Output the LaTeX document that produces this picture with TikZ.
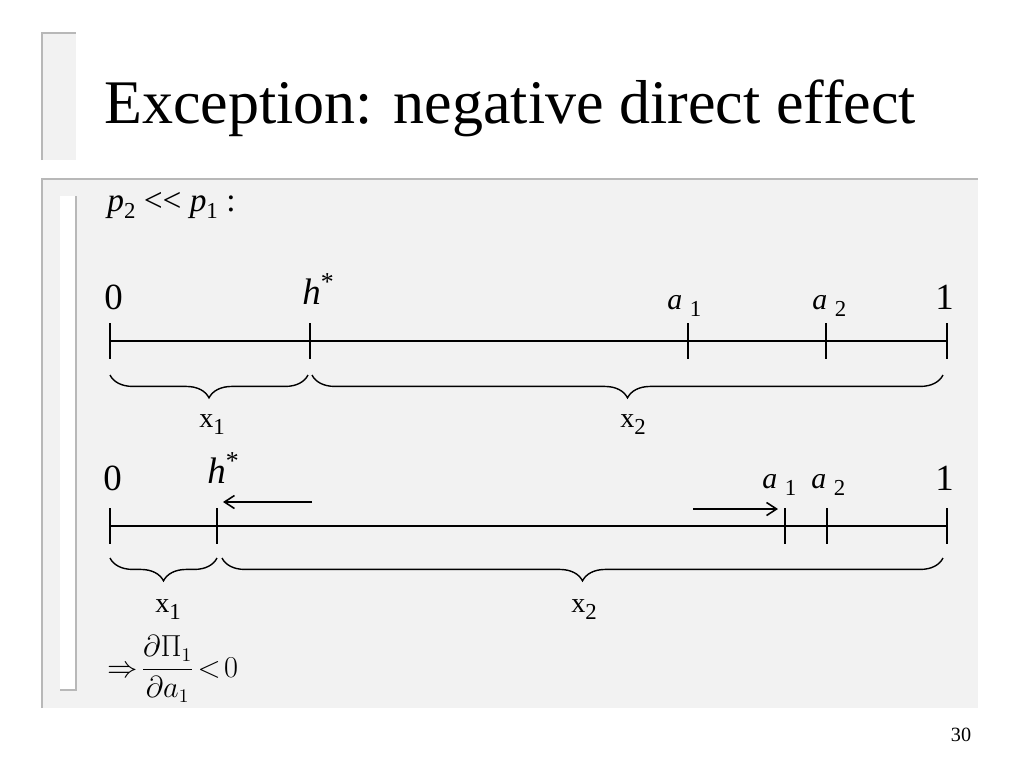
\documentclass[tikz,border=0pt]{standalone}
\usepackage{amsmath}
\usepackage{fontspec}
\setmainfont{Liberation Serif}
\usetikzlibrary{arrows.meta,decorations.pathreplacing}
\tikzset{
  pnl/.style={fill=black!5,draw=none},
  edg/.style={draw=black!28,line width=1pt},
  axis/.style={line width=.8pt},
  tk/.style={line width=.8pt},
  brc/.style={decorate,decoration={brace,mirror,amplitude=13pt},line width=.8pt},
  ar/.style={-{Straight Barb[length=2mm,width=2.6mm]},line width=.9pt},
  num/.style={font=\fontsize{21}{23}\selectfont,anchor=base west,inner sep=0pt},
  albl/.style={font=\fontsize{17}{19}\selectfont,anchor=base west,inner sep=0pt},
  seg/.style={font=\fontsize{16}{18}\selectfont,anchor=base,inner sep=0pt},
}
\newcommand{\sub}[1]{\raisebox{-4.5pt}{\fontsize{13}{15}\selectfont#1}}

\begin{document}
\begin{tikzpicture}[x=0.02cm,y=-0.02cm]
  \useasboundingbox (0,0) rectangle (1024,768);
  % slide panels
  \fill[pnl] (42,33) rectangle (76,160);
  \draw[edg] (42,160) -- (42,33) -- (76,33);
  \fill[pnl] (42,179) rectangle (978,708);
  \draw[edg] (42,708) -- (42,179) -- (978,179);
  \fill[white] (60,196) rectangle (76,690);
  \draw[edg] (60,690) -- (76,690) -- (76,196);
  \node[anchor=base west,inner sep=0pt,font=\fontsize{35.3}{38}\selectfont] (title)
    at (104,123) {Exception: negative direct effect};
  \node[anchor=base west,inner sep=0pt,font=\fontsize{19}{21}\selectfont] (cond)
    at (107,211) {\textit{p}\sub{2} <\kern0pt< \textit{p}\sub{1} :};

  % first line
  \coordinate (o1) at (110,341);
  \coordinate (h1) at (310,341);
  \coordinate (a1) at (688,341);
  \coordinate (b1) at (826,341);
  \coordinate (e1) at (947,341);
  \draw[axis] (o1) -- (e1);
  \foreach \p in {o1,h1,a1,b1,e1}
    \draw[tk] ([yshift=.36cm]\p) -- ([yshift=-.36cm]\p);
  \node[num] (zero1) at (104,309) {0};
  \node[num] (hs1)   at (302,304) {\textit{h}\textsuperscript{*}};
  \node[albl] (al1)  at (667,309) {\textit{a} \sub{1}};
  \node[albl] (bl1)  at (812,309) {\textit{a} \sub{2}};
  \node[num] (one1)  at (935,309) {1};
  \coordinate (q1) at (110,375);
  \coordinate (q2) at (308,375);
  \coordinate (q3) at (312,375);
  \coordinate (q4) at (943,375);
  \draw[brc] (q1) -- (q2);
  \draw[brc] (q3) -- (q4);
  \node[seg] (xa1) at (212,427) {x\sub{1}};
  \node[seg] (xb1) at (633,427) {x\sub{2}};

  % second line
  \coordinate (o2) at (110,526);
  \coordinate (h2) at (217,526);
  \coordinate (a2) at (785,526);
  \coordinate (b2) at (827,526);
  \coordinate (e2) at (947,526);
  \draw[axis] (o2) -- (e2);
  \foreach \p in {o2,h2,a2,b2,e2}
    \draw[tk] ([yshift=.36cm]\p) -- ([yshift=-.36cm]\p);
  \node[num] (zero2) at (103,490) {0};
  \node[num] (hs2)   at (207,483) {\textit{h}\textsuperscript{*}};
  \node[albl] (al2)  at (762,488) {\textit{a} \sub{1}};
  \node[albl] (bl2)  at (811,488) {\textit{a} \sub{2}};
  \node[num] (one2)  at (935,490) {1};
  \coordinate (hs) at (312,502);
  \coordinate (he) at (223,502);
  \coordinate (as) at (693,509);
  \coordinate (ae) at (778,509);
  \draw[ar] (hs) -- (he);
  \draw[ar] (as) -- (ae);
  \coordinate (r1) at (110,558);
  \coordinate (r2) at (217,558);
  \coordinate (r3) at (222,558);
  \coordinate (r4) at (943,558);
  \draw[brc] (r1) -- (r2);
  \draw[brc] (r3) -- (r4);
  \node[seg] (xa2) at (168,612) {x\sub{1}};
  \node[seg] (xb2) at (584,612) {x\sub{2}};

  \node[anchor=west,inner sep=0pt,font=\fontsize{16}{18}\selectfont] (res) at (107,669)
    {$\Rightarrow\!\dfrac{\partial\Pi_1}{\partial a_1}\!<\!0$};
  \node[anchor=base,inner sep=0pt,font=\fontsize{11.5}{13}\selectfont] (pg) at (961,741) {30};
\end{tikzpicture}
\end{document}
